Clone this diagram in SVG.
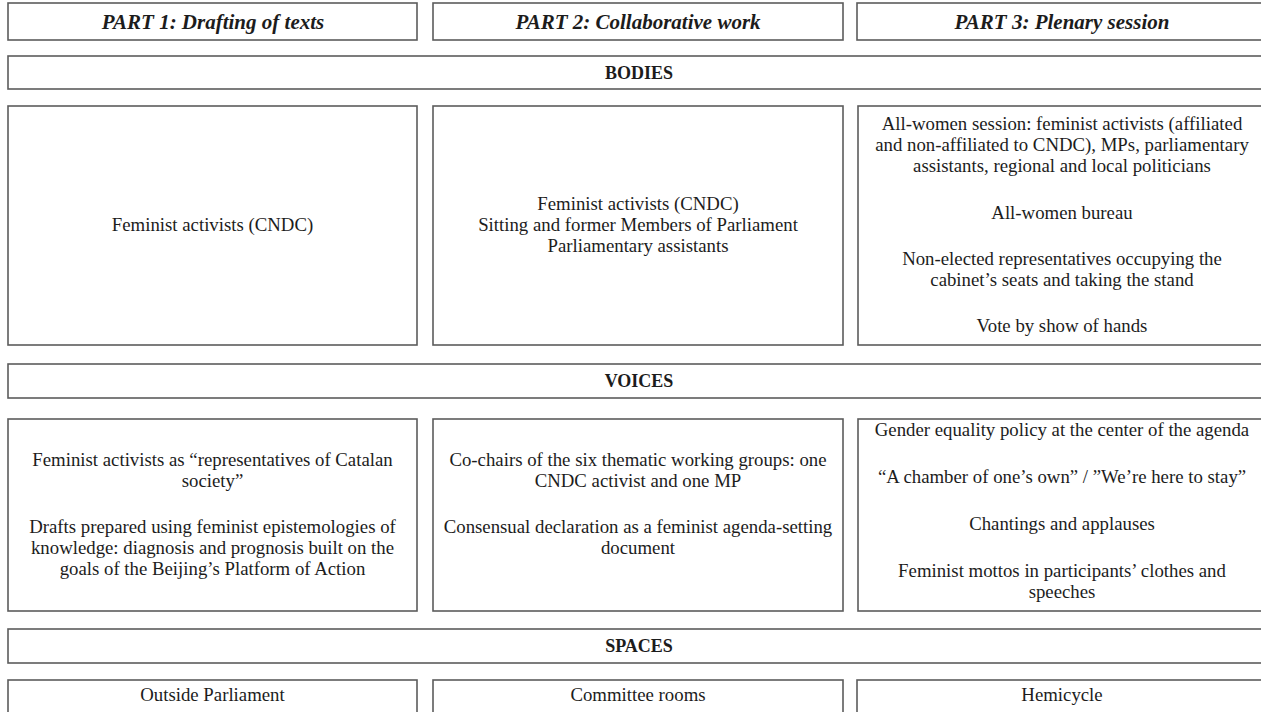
<svg xmlns="http://www.w3.org/2000/svg" width="1261" height="712" viewBox="0 0 1261 712">
<style>
.box{fill:#ffffff;stroke:#5c5c5c;stroke-width:1.6}
.t{font-family:"Liberation Serif","Times New Roman",serif;font-size:18.8px;fill:#1c1c1c;text-anchor:middle}
.h{font-weight:bold;font-style:italic;font-size:21px}
.s{font-weight:bold;font-size:18px}
</style>
<rect width="1261" height="712" fill="#ffffff"/>
<g id="connectors"/>
<g id="part1"><rect class="box" x="8" y="3" width="409" height="37"/><text class="t h" x="213" y="28.5">PART 1: Drafting of texts</text></g>
<g id="part2"><rect class="box" x="433" y="3" width="410" height="37"/><text class="t h" x="638" y="28.5">PART 2: Collaborative work</text></g>
<g id="part3"><rect class="box" x="857" y="3" width="410" height="37"/><text class="t h" x="1062" y="28.5">PART 3: Plenary session</text></g>

<g id="bodies"><rect class="box" x="8" y="56" width="1262" height="33"/><text class="t s" x="639" y="78.5">BODIES</text></g>
<g id="bodies1"><rect class="box" x="8" y="106" width="409" height="239"/><text class="t" x="212.5" y="231">Feminist activists (CNDC)</text></g>
<g id="bodies2"><rect class="box" x="433" y="106" width="410" height="239"/>
<text class="t" x="638" y="210">Feminist activists (CNDC)</text>
<text class="t" x="638" y="231">Sitting and former Members of Parliament</text>
<text class="t" x="638" y="252">Parliamentary assistants</text></g>
<g id="bodies3"><rect class="box" x="858" y="106" width="410" height="239"/>
<text class="t" x="1062" y="130">All-women session: feminist activists (affiliated</text>
<text class="t" x="1062" y="151">and non-affiliated to CNDC), MPs, parliamentary</text>
<text class="t" x="1062" y="172">assistants, regional and local politicians</text>
<text class="t" x="1062" y="219">All-women bureau</text>
<text class="t" x="1062" y="265">Non-elected representatives occupying the</text>
<text class="t" x="1062" y="286">cabinet’s seats and taking the stand</text>
<text class="t" x="1062" y="332">Vote by show of hands</text></g>

<g id="voices"><rect class="box" x="8" y="364" width="1262" height="34"/><text class="t s" x="639" y="387">VOICES</text></g>
<g id="voices1"><rect class="box" x="8" y="419" width="409" height="192"/>
<text class="t" x="212.5" y="466">Feminist activists as “representatives of Catalan</text>
<text class="t" x="212.5" y="487">society”</text>
<text class="t" x="212.5" y="533">Drafts prepared using feminist epistemologies of</text>
<text class="t" x="212.5" y="554">knowledge: diagnosis and prognosis built on the</text>
<text class="t" x="212.5" y="575">goals of the Beijing’s Platform of Action</text></g>
<g id="voices2"><rect class="box" x="433" y="419" width="410" height="192"/>
<text class="t" x="638" y="466">Co-chairs of the six thematic working groups: one</text>
<text class="t" x="638" y="487">CNDC activist and one MP</text>
<text class="t" x="638" y="533">Consensual declaration as a feminist agenda-setting</text>
<text class="t" x="638" y="554">document</text></g>
<g id="voices3"><rect class="box" x="858" y="419" width="410" height="192"/>
<text class="t" x="1062" y="436">Gender equality policy at the center of the agenda</text>
<text class="t" x="1062" y="483">“A chamber of one’s own” / ”We’re here to stay”</text>
<text class="t" x="1062" y="530">Chantings and applauses</text>
<text class="t" x="1062" y="577">Feminist mottos in participants’ clothes and</text>
<text class="t" x="1062" y="598">speeches</text></g>

<g id="spaces"><rect class="box" x="8" y="629" width="1262" height="34"/><text class="t s" x="639" y="652">SPACES</text></g>
<g id="spaces1"><rect class="box" x="8" y="680" width="409" height="40"/><text class="t" x="212.5" y="701">Outside Parliament</text></g>
<g id="spaces2"><rect class="box" x="433" y="680" width="410" height="40"/><text class="t" x="638" y="701">Committee rooms</text></g>
<g id="spaces3"><rect class="box" x="857" y="680" width="410" height="40"/><text class="t" x="1062" y="701">Hemicycle</text></g>
</svg>
